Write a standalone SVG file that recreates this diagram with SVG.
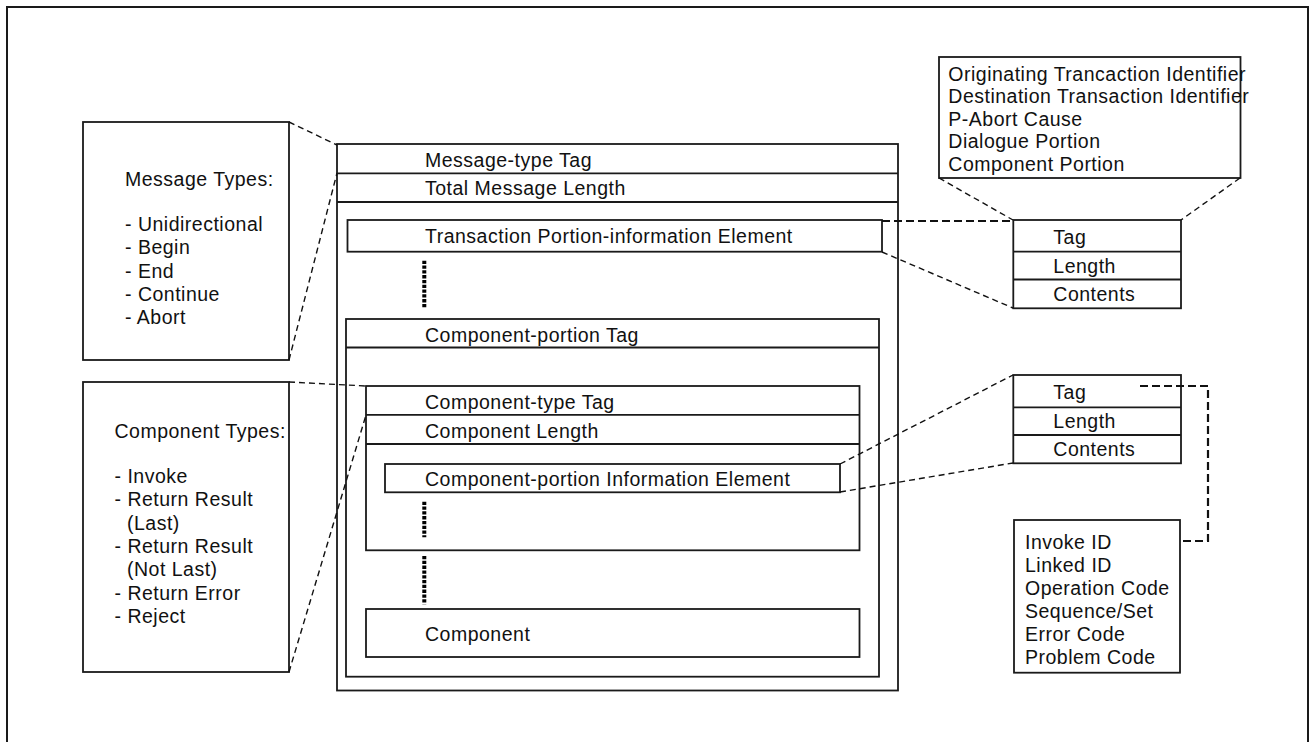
<svg xmlns="http://www.w3.org/2000/svg" width="1309" height="742" viewBox="0 0 1309 742">
  <style>
    .box { fill: none; stroke: #1a1a1a; stroke-width: 1.8; }
    .rule { stroke: #1a1a1a; stroke-width: 1.8; fill: none; }
    .txt { font-family: "Liberation Sans", Arial, sans-serif; font-size: 19.5px; letter-spacing: 0.5px; fill: #111111; }
    .dash { fill: none; stroke: #111111; stroke-width: 1.4; stroke-dasharray: 6 4; }
    .dash-bold { fill: none; stroke: #111111; stroke-width: 2.2; stroke-dasharray: 8 4; }
    .dots { fill: none; stroke: #000000; stroke-width: 4; stroke-dasharray: 3.3 1.5; }
  </style>

  <!-- page frame -->
  <rect x="0" y="0" width="1309" height="742" fill="#ffffff"/>
  <rect x="7" y="7" width="1301" height="745" fill="none" stroke="#1a1a1a" stroke-width="2"/>

  <!-- message types legend -->
  <g id="message-types">
    <rect class="box" x="83" y="122" width="206" height="238"/>
    <text class="txt" x="125" y="186">Message Types:</text>
    <text class="txt" x="125" y="231">- Unidirectional</text>
    <text class="txt" x="125" y="254.3">- Begin</text>
    <text class="txt" x="125" y="277.6">- End</text>
    <text class="txt" x="125" y="300.9">- Continue</text>
    <text class="txt" x="125" y="324.2">- Abort</text>
  </g>

  <!-- component types legend -->
  <g id="component-types">
    <rect class="box" x="83" y="382" width="206" height="290"/>
    <text class="txt" x="114.5" y="438">Component Types:</text>
    <text class="txt" x="114.5" y="483">- Invoke</text>
    <text class="txt" x="114.5" y="506.3">- Return Result</text>
    <text class="txt" x="127" y="529.6">(Last)</text>
    <text class="txt" x="114.5" y="552.9">- Return Result</text>
    <text class="txt" x="127" y="576.2">(Not Last)</text>
    <text class="txt" x="114.5" y="599.5">- Return Error</text>
    <text class="txt" x="114.5" y="622.8">- Reject</text>
  </g>

  <!-- message structure -->
  <g id="message">
    <rect class="box" x="337" y="144" width="561" height="546.5"/>
    <line class="rule" x1="337" y1="173.3" x2="898" y2="173.3"/>
    <line class="rule" x1="337" y1="202" x2="898" y2="202"/>
    <text class="txt" x="425" y="166.7">Message-type Tag</text>
    <text class="txt" x="425" y="195">Total Message Length</text>
  </g>

  <g id="transaction-element">
    <rect class="box" x="347.5" y="220" width="534.5" height="31.7"/>
    <text class="txt" x="425" y="242.7">Transaction Portion-information Element</text>
  </g>

  <line id="gap-transaction" class="dots" x1="424.3" y1="260.7" x2="424.3" y2="308.3"/>

  <g id="component-portion">
    <rect class="box" x="346" y="319" width="533" height="357.7"/>
    <line class="rule" x1="346" y1="347.5" x2="879" y2="347.5"/>
    <text class="txt" x="425" y="341.7">Component-portion Tag</text>
  </g>

  <g id="component-type">
    <rect class="box" x="366" y="386" width="493.5" height="164.3"/>
    <line class="rule" x1="366" y1="414.8" x2="859.5" y2="414.8"/>
    <line class="rule" x1="366" y1="444" x2="859.5" y2="444"/>
    <text class="txt" x="425" y="408.7">Component-type Tag</text>
    <text class="txt" x="425" y="437.7">Component Length</text>
  </g>

  <g id="component-element">
    <rect class="box" x="385" y="464" width="455" height="28.3"/>
    <text class="txt" x="425" y="485.7">Component-portion Information Element</text>
  </g>

  <line id="gap-element" class="dots" x1="424.3" y1="501.7" x2="424.3" y2="537.3"/>
  <line id="gap-component" class="dots" x1="424.3" y1="556" x2="424.3" y2="604.3"/>

  <g id="component">
    <rect class="box" x="366" y="609" width="493.5" height="48"/>
    <text class="txt" x="425" y="641">Component</text>
  </g>

  <!-- transaction portion fields -->
  <g id="transaction-fields">
    <rect class="box" x="939" y="57" width="301.5" height="121"/>
    <text class="txt" x="948.3" y="80.7">Originating Trancaction Identifier</text>
    <text class="txt" x="948.3" y="103.3">Destination Transaction Identifier</text>
    <text class="txt" x="948.3" y="126">P-Abort Cause</text>
    <text class="txt" x="948.3" y="148.3">Dialogue Portion</text>
    <text class="txt" x="948.3" y="170.7">Component Portion</text>
  </g>

  <!-- tag/length/contents of the transaction element -->
  <g id="tlv-transaction">
    <rect class="box" x="1013.3" y="220" width="167.7" height="88.3"/>
    <line class="rule" x1="1013.3" y1="251.7" x2="1181" y2="251.7"/>
    <line class="rule" x1="1013.3" y1="279.5" x2="1181" y2="279.5"/>
    <text class="txt" x="1053.3" y="244.3">Tag</text>
    <text class="txt" x="1053.3" y="273.3">Length</text>
    <text class="txt" x="1053.3" y="301">Contents</text>
  </g>

  <!-- tag/length/contents of the component element -->
  <g id="tlv-component">
    <rect class="box" x="1013.3" y="375" width="167.7" height="88.3"/>
    <line class="rule" x1="1013.3" y1="407.3" x2="1181" y2="407.3"/>
    <line class="rule" x1="1013.3" y1="435" x2="1181" y2="435"/>
    <text class="txt" x="1053.3" y="399.3">Tag</text>
    <text class="txt" x="1053.3" y="428.3">Length</text>
    <text class="txt" x="1053.3" y="456">Contents</text>
  </g>

  <!-- component fields -->
  <g id="component-fields">
    <rect class="box" x="1014" y="520" width="166" height="152.7"/>
    <text class="txt" x="1025" y="549">Invoke ID</text>
    <text class="txt" x="1025" y="572">Linked ID</text>
    <text class="txt" x="1025" y="595">Operation Code</text>
    <text class="txt" x="1025" y="618">Sequence/Set</text>
    <text class="txt" x="1025" y="641">Error Code</text>
    <text class="txt" x="1025" y="664">Problem Code</text>
  </g>

  <!-- zoom-out connectors, drawn over the boxes -->
  <g id="connectors">
    <line class="dash" x1="289" y1="122" x2="337" y2="145"/>
    <line class="dash" x1="289" y1="360" x2="337" y2="173"/>
    <line class="dash" x1="289" y1="382" x2="366" y2="386"/>
    <line class="dash" x1="289" y1="672" x2="366" y2="415"/>
    <line class="dash-bold" x1="882" y1="221" x2="1013" y2="221"/>
    <line class="dash" x1="882" y1="252" x2="1013" y2="308"/>
    <line class="dash" x1="939" y1="178" x2="1013" y2="220"/>
    <line class="dash" x1="1240" y1="178" x2="1181" y2="220"/>
    <line class="dash" x1="840" y1="464" x2="1013" y2="375"/>
    <line class="dash" x1="840" y1="492" x2="1013" y2="463"/>
    <polyline class="dash-bold" points="1140,386 1208,386 1208,541 1180,541"/>
  </g>
</svg>
